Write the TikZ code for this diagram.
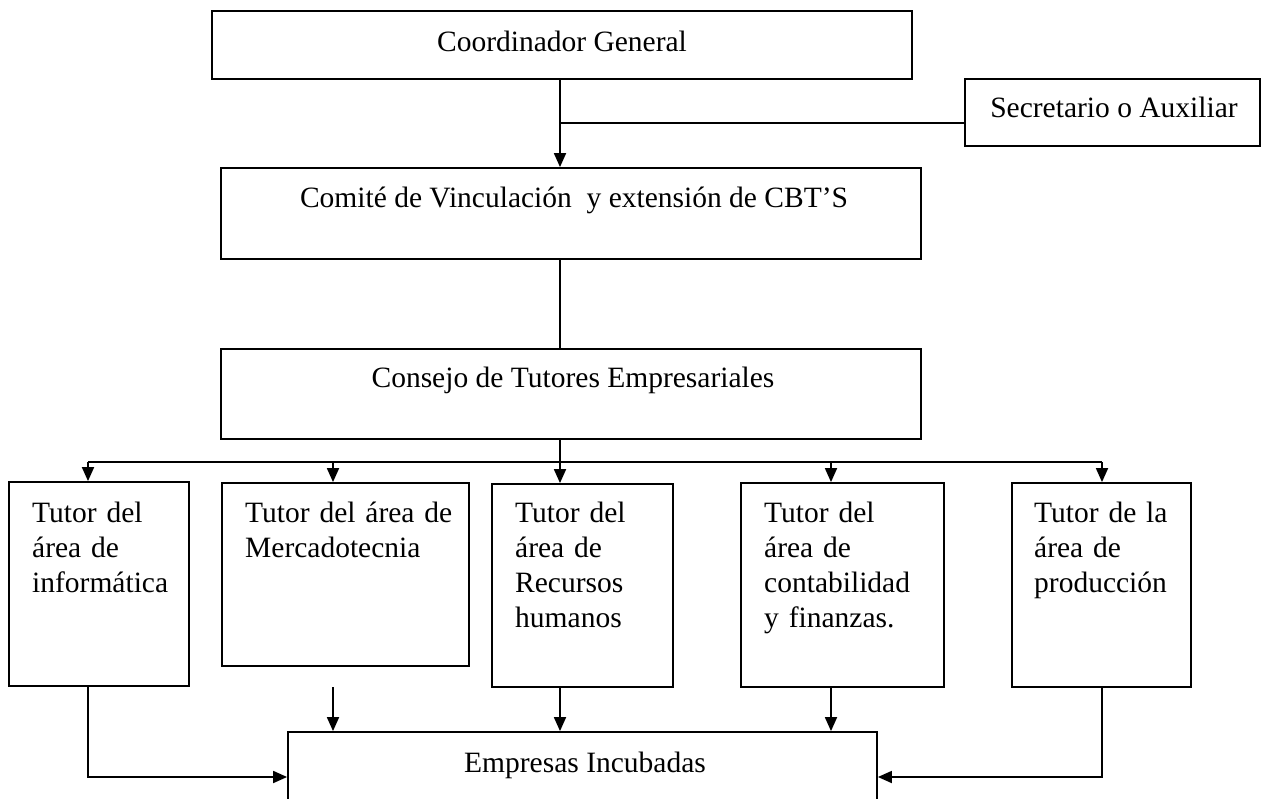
\documentclass[tikz,border=0pt]{standalone}
\usepackage{fontspec}
\setmainfont{Liberation Serif}
\usetikzlibrary{arrows.meta}
\begin{document}
\begin{tikzpicture}[x=1pt,y=-1pt,
  box/.style={draw, line width=1.8pt, inner sep=0pt},
  txt/.style={inner sep=0pt, font=\fontsize{29.5}{35}\selectfont},
  btxt/.style={txt, align=left, text width=320pt, anchor=base west},
  ln/.style={line width=1.8pt},
  thinln/.style={line width=1.3pt},
  arr/.style={line width=1.8pt, -{Triangle[length=14pt,width=12pt]}}]
\useasboundingbox (0,0) rectangle (1266,799);
% boxes
\node[box, minimum width=700pt, minimum height=68pt] (coord) at (562,45) {};
\node[box, minimum width=295pt, minimum height=67pt] (sec) at (1112.5,112.5) {};
\node[box, minimum width=700pt, minimum height=91pt] (com) at (571,213.5) {};
\node[box, minimum width=700pt, minimum height=90pt] (con) at (571,394) {};
\node[box, minimum width=180pt, minimum height=204pt] (b1) at (99,584) {};
\node[box, minimum width=247pt, minimum height=183pt] (b2) at (345.5,574.5) {};
\node[box, minimum width=181pt, minimum height=203pt] (b3) at (582.5,585.5) {};
\node[box, minimum width=203pt, minimum height=204pt] (b4) at (842.5,585) {};
\node[box, minimum width=179pt, minimum height=204pt] (b5) at (1101.5,585) {};
\node[box, minimum width=589pt, minimum height=90pt] (emp) at (582.5,777) {};
% texts
\node[txt, anchor=base] (tcoord) at (562,52) {Coordinador General};
\node[txt, anchor=base] (tsec) at (1114,118) {Secretario o Auxiliar};
\node[txt, anchor=base] (tcom) at (574,208) {Comité de Vinculación\ \ y extensión de CBT’S};
\node[txt, anchor=base] (tcon) at (573,388) {Consejo de Tutores Empresariales};
\node[btxt] (t1) at (32,522) {Tutor del\\área de\\informática};
\node[btxt] (t2) at (245,522) {Tutor del área de\\Mercadotecnia};
\node[btxt] (t3) at (515,522) {Tutor del\\área de\\Recursos\\humanos};
\node[btxt] (t4) at (764,522) {Tutor del\\área de\\contabilidad\\y finanzas.};
\node[btxt] (t5) at (1034,522) {Tutor de la\\área de\\producción};
\node[txt, anchor=base] (temp) at (585,772) {Empresas Incubadas};
% connectors
\coordinate (j) at (560,123);
\coordinate (hub) at (560,462);
\coordinate (d1) at (88,462);
\coordinate (d2) at (333,462);
\coordinate (d4) at (831,462);
\coordinate (d5) at (1102,462);
\coordinate (m2) at (333,687);
\draw[arr] (j |- coord.south) -- (j |- com.north);
\draw[ln] (sec.west |- j) -- (j);
\draw[ln] (j |- com.south) -- (j |- con.north);
\draw[ln] (j |- con.south) -- (hub);
\draw[thinln] (d1) -- (d5);
\draw[arr] (d1) -- (d1 |- b1.north);
\draw[arr] (d2) -- (d2 |- b2.north);
\draw[arr] (hub) -- (hub |- b3.north);
\draw[arr] (d4) -- (d4 |- b4.north);
\draw[arr] (d5) -- (d5 |- b5.north);
\draw[arr] (d1 |- b1.south) |- (emp.west);
\draw[arr] (m2) -- (m2 |- emp.north);
\draw[arr] (hub |- b3.south) -- (hub |- emp.north);
\draw[arr] (d4 |- b4.south) -- (d4 |- emp.north);
\draw[arr] (d5 |- b5.south) |- (emp.east);
\end{tikzpicture}
\end{document}
